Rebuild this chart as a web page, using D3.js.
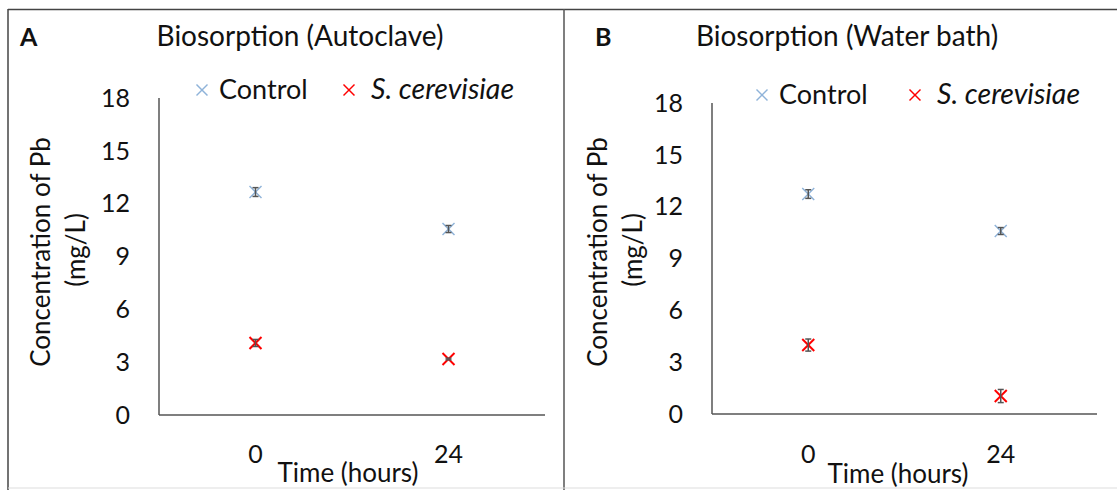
<!DOCTYPE html>
<html>
<head>
<meta charset="utf-8">
<script src="https://cdn.jsdelivr.net/npm/d3@7"></script>
<style>
  body { margin: 0; background: #fff; }
  text { font-family: Lato, "Open Sans", sans-serif; fill: #111; }
</style>
</head>
<body>
<div id="chart-container"></div>
<script>
// data
var times = ["0", "24"];
var yTicks = [0, 3, 6, 9, 12, 15, 18];

var autoclaveControl = [12.66, 10.56];
var autoclaveControlErr = [0.25, 0.2];
var autoclaveYeast = [4.09, 3.18];
var autoclaveYeastErr = [0.2, 0.05];

var waterControl = [12.73, 10.59];
var waterControlErr = [0.25, 0.2];
var waterYeast = [3.99, 1.04];
var waterYeastErr = [0.35, 0.38];

var seriesNames = ["Control", "S. cerevisiae"];

var width = 1117;
var height = 490;

var controlColor = "#8fb3d9";
var yeastColor = "#ff0000";

var svg = d3
  .select("#chart-container")
  .append("svg")
  .attr("width", width)
  .attr("height", height);

// outer frame and divider
svg.append("line").attr("x1", 8).attr("x2", width).attr("y1", 9.5).attr("y2", 9.5)
  .attr("stroke", "#444").attr("stroke-width", 1.5);
svg.append("line").attr("x1", 8).attr("x2", 8).attr("y1", 9).attr("y2", height)
  .attr("stroke", "#444").attr("stroke-width", 1.5);
svg.append("line").attr("x1", 564).attr("x2", 564).attr("y1", 9).attr("y2", height)
  .attr("stroke", "#555").attr("stroke-width", 1.5);
svg.append("line").attr("x1", 8).attr("x2", width).attr("y1", 488).attr("y2", 488)
  .attr("stroke", "#ddd").attr("stroke-width", 1);

// draws an "x" marker centred at 0,0
function cross(g, size, color, w) {
  g.append("line").attr("x1", -size).attr("y1", -size).attr("x2", size).attr("y2", size)
    .attr("stroke", color).attr("stroke-width", w);
  g.append("line").attr("x1", -size).attr("y1", size).attr("x2", size).attr("y2", -size)
    .attr("stroke", color).attr("stroke-width", w);
}

function drawPanel(p) {
  var g = svg.append("g");

  var x = d3.scaleBand().domain(times).range([p.left, p.right]);
  var y = d3.scaleLinear().domain([0, 18]).range([p.bottom, p.top]);

  // panel letter and title
  g.append("text").attr("x", p.letterX).attr("y", 46)
    .style("font-weight", "bold").style("font-size", "25px").text(p.letter);
  g.append("text").attr("x", p.titleX).attr("y", 46).attr("text-anchor", "middle")
    .style("font-size", "28px").text(p.title);

  // axis lines
  g.append("line").attr("x1", p.left).attr("x2", p.left).attr("y1", y(18)).attr("y2", y(0))
    .attr("stroke", "#555").attr("stroke-width", 1.5);
  g.append("line").attr("x1", p.left).attr("x2", p.right).attr("y1", y(0)).attr("y2", y(0))
    .attr("stroke", "#555").attr("stroke-width", 1.5);

  // y tick labels
  g.selectAll(".ytick")
    .data(yTicks)
    .enter()
    .append("text")
    .attr("class", "ytick")
    .attr("x", p.left - 29)
    .attr("y", function(d) { return y(d); })
    .attr("dy", ".35em")
    .attr("text-anchor", "end")
    .style("font-size", "25px")
    .text(function(d) { return d; });

  // x tick labels
  g.selectAll(".xtick")
    .data(times)
    .enter()
    .append("text")
    .attr("class", "xtick")
    .attr("x", function(d) { return x(d) + x.bandwidth() / 2; })
    .attr("y", 463)
    .attr("text-anchor", "middle")
    .style("font-size", "25px")
    .text(function(d) { return d; });

  // axis titles
  g.append("text").attr("x", p.xTitleX).attr("y", p.xTitleY).attr("text-anchor", "middle")
    .style("font-size", "26px").text("Time (hours)");
  g.append("text")
    .attr("transform", "translate(" + p.yTitleX + ",252) rotate(-90)")
    .attr("text-anchor", "middle")
    .style("font-size", "26px")
    .text("Concentration of Pb");
  g.append("text")
    .attr("transform", "translate(" + (p.yTitleX + 35) + ",250) rotate(-90)")
    .attr("text-anchor", "middle")
    .style("font-size", "26px")
    .text("(mg/L)");

  // points with error bars
  var series = [
    { vals: p.control, errs: p.controlErr, color: controlColor, w: 1.5 },
    { vals: p.yeast, errs: p.yeastErr, color: yeastColor, w: 2 }
  ];
  series.forEach(function(s) {
    times.forEach(function(t, i) {
      var cx = x(t) + x.bandwidth() / 2;
      var pt = g.append("g").attr("transform", "translate(" + cx + "," + y(s.vals[i]) + ")");
      cross(pt, 6, s.color, s.w);
      var hi = y(s.vals[i] + s.errs[i]) - y(s.vals[i]);
      var lo = y(s.vals[i] - s.errs[i]) - y(s.vals[i]);
      pt.append("line").attr("x1", 0).attr("x2", 0).attr("y1", hi).attr("y2", lo)
        .attr("stroke", "#555").attr("stroke-width", 1.5);
      [hi, lo].forEach(function(e) {
        pt.append("line").attr("x1", -3).attr("x2", 3).attr("y1", e).attr("y2", e)
          .attr("stroke", "#555").attr("stroke-width", 1.5);
      });
    });
  });

  // legend
  var legend = g.selectAll(".legend")
    .data(seriesNames)
    .enter()
    .append("g")
    .attr("class", "legend")
    .attr("transform", function(d, i) {
      return "translate(" + p.legendX[i] + "," + p.legendY + ")";
    });
  legend.each(function(d, i) {
    cross(d3.select(this), 5.5, i === 0 ? controlColor : yeastColor, 1.5);
  });
  legend
    .append("text")
    .attr("x", function(d, i) { return i === 0 ? 17 : 22; })
    .attr("y", 9)
    .style("font-size", function(d, i) { return i === 0 ? "27px" : "28.5px"; })
    .style("font-style", function(d, i) { return i === 1 ? "italic" : "normal"; })
    .text(function(d) { return d; });
}

drawPanel({
  letter: "A", letterX: 20, title: "Biosorption (Autoclave)", titleX: 300,
  left: 159, right: 545, top: 98, bottom: 415,
  xTitleX: 348, xTitleY: 482, yTitleX: 50,
  legendX: [202, 349], legendY: 90,
  control: autoclaveControl, controlErr: autoclaveControlErr,
  yeast: autoclaveYeast, yeastErr: autoclaveYeastErr
});

drawPanel({
  letter: "B", letterX: 595, title: "Biosorption (Water bath)", titleX: 847,
  left: 712, right: 1097, top: 103, bottom: 414,
  xTitleX: 898, xTitleY: 483, yTitleX: 607,
  legendX: [762, 915], legendY: 95,
  control: waterControl, controlErr: waterControlErr,
  yeast: waterYeast, yeastErr: waterYeastErr
});
</script>
</body>
</html>
